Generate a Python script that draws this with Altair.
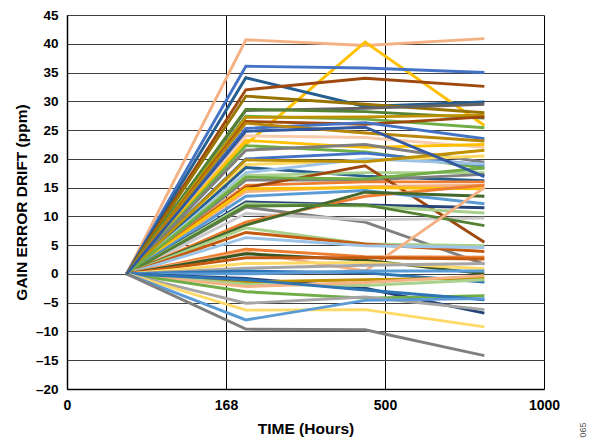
import altair as alt
import pandas as pd

# Time categories (hours)
hours = ["0", "168", "500", "1000"]

# Gain error drift (ppm) per unit at 168 h, 500 h, 1000 h (all start at 0 at time 0)
v168 = [40.7, 22.5, 36.1, 34.1, 32.0, 30.9, 28.4, 28.6, 27.4, 27.2,
        26.5, 25.3, 26.2, 24.0, 23.2, 22.3, 21.5, 20.0, 19.0, 18.5,
        17.6, 17.1, 16.3, 15.4, 15.0, 14.3, 14.8, 13.5, 12.5, 11.6,
        10.5, 12.2, 9.0, 8.5, 11.8, 8.0, 7.2, 6.3, 4.3, 3.8,
        3.5, 2.8, 1.8, 1.0, 0.5, 0.0, -0.8, -1.4, -1.8, -2.2,
        -3.1, -1.0, -5.1, -6.3, -8.0, -9.6, 19.8, 16.8, 24.8]
v500 = [39.7, 40.3, 35.8, 29.1, 34.0, 29.5, 28.8, 28.2, 26.9, 27.3,
        26.0, 26.3, 24.5, 23.7, 22.0, 21.2, 22.5, 21.0, 19.7, 17.0,
        20.0, 17.6, 16.3, 16.0, 18.8, 15.2, 15.0, 14.5, 12.0, 9.0,
        9.4, 11.8, 13.5, 14.2, 12.0, 5.2, 5.2, 4.9, 3.0, 0.5,
        2.4, 2.8, 2.0, 1.5, 0.2, 0.5, -2.5, -1.0, -2.0, -1.5,
        -4.2, -2.8, -4.0, -6.2, -4.6, -9.7, 19.5, 16.5, 25.5]
v1000 = [40.9, 25.8, 35.0, 29.9, 32.6, 28.0, 29.5, 27.1, 25.4, 27.6,
         27.3, 23.5, 23.1, 22.0, 22.5, 18.4, 19.4, 18.9, 20.5, 16.2,
         19.1, 17.6, 17.3, 16.0, 5.5, 15.4, 14.8, 12.2, 11.5, 1.7,
         9.7, 10.6, 15.4, 13.5, 8.4, 4.9, 3.9, 4.6, 2.9, 15.0,
         0.0, 2.6, 0.9, 1.8, -1.4, 0.5, -6.8, -0.7, -1.0, -0.3,
         -3.8, -4.5, -6.2, -9.2, -4.3, -14.2, 21.5, 18.4, 16.9]
colors = ["#F4B183", "#FFC000", "#4472C4", "#255E91", "#9E480E", "#997300", "#636363", "#548235", "#70AD47", "#BF9000",
          "#9E480E", "#4472C4", "#B8860B", "#F8CBAD", "#FFC000", "#70AD47", "#7F7F7F", "#4472C4", "#FFD966", "#255E91",
          "#9DC3E6", "#A9D18E", "#7F7F7F", "#ED7D31", "#9E480E", "#F4B183", "#FFC000", "#5B9BD5", "#264478", "#7F7F7F",
          "#C9C9C9", "#A9D18E", "#ED7D31", "#43682B", "#548235", "#A9D18E", "#C55A11", "#9DC3E6", "#ED7D31", "#F4B183",
          "#375623", "#C55A11", "#FFD966", "#A5A5A5", "#2E75B6", "#5B9BD5", "#264478", "#BF9000", "#A9D18E", "#F4B183",
          "#70AD47", "#2E75B6", "#A5A5A5", "#FFD966", "#5B9BD5", "#7F7F7F", "#BF9000", "#70AD47", "#335AA1"]

rows = []
for i in range(len(v168)):
    sid = f"S{i:02d}"
    for h, v in zip(hours, [0.0, v168[i], v500[i], v1000[i]]):
        rows.append({"series": sid, "hour": h, "drift": v, "order": hours.index(h)})
df = pd.DataFrame(rows)
series_ids = [f"S{i:02d}" for i in range(len(v168))]

FONT = "Liberation Sans"

y_axis = alt.Axis(
    values=list(range(-20, 50, 5)),
    labelExpr="datum.value < 0 ? '\u2013' + abs(datum.value) : '' + datum.value",
    labelOverlap=False,
    grid=True, gridColor="#404040", gridWidth=1,
    ticks=False, domainColor="#000000", domainWidth=1.5,
    labelFont=FONT, labelFontWeight="bold", labelFontSize=13.5, labelColor="#000000",
    labelPadding=9,
    title="GAIN ERROR DRIFT (ppm)", titleFont=FONT, titleFontWeight="bold",
    titleFontSize=15.5, titleColor="#000000", titlePadding=6,
)
y_scale = alt.Scale(domain=[-20, 45], nice=False)

# Axis/grid layer: categories evenly spaced across the full width
grid_df = pd.DataFrame({"hour": hours, "drift": [0, 0, 0, 0]})
axis_layer = alt.Chart(grid_df).mark_point(opacity=0).encode(
    x=alt.X("hour:O", sort=hours, scale=alt.Scale(type="point", padding=0),
            axis=alt.Axis(orient="bottom", grid=True, gridColor="#000000", gridWidth=1,
                          ticks=False, domainColor="#000000", domainWidth=1.5,
                          labelAngle=0, labelFont=FONT, labelFontWeight="bold",
                          labelFontSize=14, labelColor="#000000", labelPadding=9,
                          title="TIME (Hours)", titleFont=FONT, titleFontWeight="bold",
                          titleFontSize=15.5, titleColor="#000000", titlePadding=9)),
    y=alt.Y("drift:Q", scale=y_scale, axis=y_axis),
)

lines = alt.Chart(df).mark_line(strokeWidth=2.9, strokeJoin="miter").encode(
    x=alt.X("hour:O", sort=hours, scale=alt.Scale(type="point", padding=0.5), axis=None),
    y=alt.Y("drift:Q", scale=y_scale, axis=y_axis),
    color=alt.Color("series:N", scale=alt.Scale(domain=series_ids, range=colors), legend=None),
    order="order:Q",
)

note = alt.Chart(pd.DataFrame({"t": ["065"]})).mark_text(
    angle=270, fontSize=9, color="#555555", font=FONT
).encode(x=alt.value(516), y=alt.value(415), text="t:N")

chart = alt.layer(axis_layer, lines, note).resolve_scale(x="independent").properties(
    width=477, height=374,
    autosize=alt.AutoSizeParams(type="none"),
    padding={"left": 59, "top": 7, "right": 44, "bottom": 49},
).configure_view(stroke=None)

chart.save("out.html", embed_options={"renderer": "svg", "actions": False})
